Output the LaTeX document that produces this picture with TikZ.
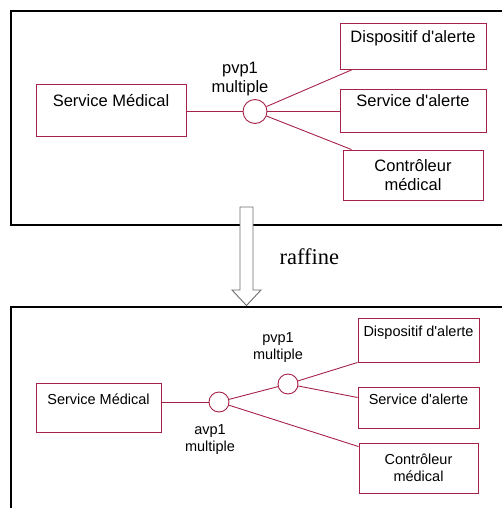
\documentclass[tikz,border=0pt]{standalone}
\usepackage{fontspec}
\setmainfont{Liberation Serif}
\setsansfont{Liberation Sans}
\usepackage{tikz}
\usetikzlibrary{calc}
\definecolor{CompRed}{RGB}{166,34,72}
\definecolor{ArrowGray}{RGB}{110,110,110}
\tikzset{
  comp/.style={draw=CompRed, line width=0.9pt, align=center, inner sep=0pt},
  port/.style={circle, draw=CompRed, line width=0.9pt, fill=white, inner sep=0pt},
  link/.style={draw=CompRed, line width=0.9pt},
  frame/.style={draw=black, line width=2.2pt},
  tag/.style={align=center, inner sep=0pt}
}

\begin{document}
\begin{tikzpicture}[x=1pt, y=-1pt, font=\sffamily]
  \useasboundingbox (0,0) rectangle (502,508);

  % before refinement
  \draw[frame] (520,11) -- (11,11) -- (11,225) -- (520,225);
  \begin{scope}[font=\sffamily\fontsize{16.5}{19}\selectfont]
    \node[comp, minimum width=150, minimum height=52] (med1) at (111,110) {Service Médical\\~};
    \node[port, minimum size=24] (pvpA) at (255,111.5) {};
    \node[tag] (pvpAlbl) at (240,79) {pvp1\\multiple};
    \node[comp, minimum width=146, minimum height=46] (disp1) at (413,46) {Dispositif d\textquotesingle alerte\\~};
    \node[comp, minimum width=146, minimum height=43] (serv1) at (413,110.5) {Service d\textquotesingle alerte\\~};
    \node[comp, minimum width=140, minimum height=50] (ctrl1) at (413,175) {Contrôleur\\médical};
  \end{scope}
  \draw[link] (med1.east |- pvpA) -- (pvpA);
  \draw[link] (pvpA) -- ($(disp1.south west)+(13,0)$);
  \draw[link] (pvpA) -- (serv1.west |- pvpA);
  \draw[link] (pvpA) -- ($(ctrl1.north west)+(9,0)$);

  % refinement arrow
  \draw[frame] (520,307) -- (11,307) -- (11,520);
  \draw[draw=ArrowGray, fill=white, line width=0.9pt]
    (240,207) -- (240,290) -- (232,290) -- (246.5,305.5) -- (261,290)
    -- (253,290) -- (253,207) -- cycle;
  \node[font=\rmfamily\fontsize{22.5}{24}\selectfont, anchor=west] (refine) at (276,257) {raffine};

  % after refinement
  \begin{scope}[font=\sffamily\fontsize{14.5}{17}\selectfont]
    \node[comp, minimum width=125, minimum height=49] (med2) at (98.5,407.5) {Service Médical\\~};
    \node[port, minimum size=20] (avp) at (219,402) {};
    \node[port, minimum size=20] (pvpB) at (288,384) {};
    \node[tag] (avplbl) at (210,440) {avp1\\multiple};
    \node[tag] (pvpBlbl) at (278,348) {pvp1\\multiple};
    \node[comp, minimum width=121, minimum height=44] (disp2) at (418.5,340) {Dispositif d\textquotesingle alerte\\~};
    \node[comp, minimum width=121, minimum height=41] (serv2) at (418.5,407.5) {Service d\textquotesingle alerte\\~};
    \node[comp, minimum width=119, minimum height=50] (ctrl2) at (418.5,468) {Contrôleur\\médical};
  \end{scope}
  \draw[link] (med2.east |- avp) -- (avp);
  \draw[link] (avp) -- (pvpB);
  \draw[link] (pvpB) -- (disp2.south west);
  \draw[link] (pvpB) -- ($(serv2.west)+(0,-10)$);
  \draw[link] (avp) -- ($(ctrl2.north west)+(0,4)$);
\end{tikzpicture}
\end{document}
